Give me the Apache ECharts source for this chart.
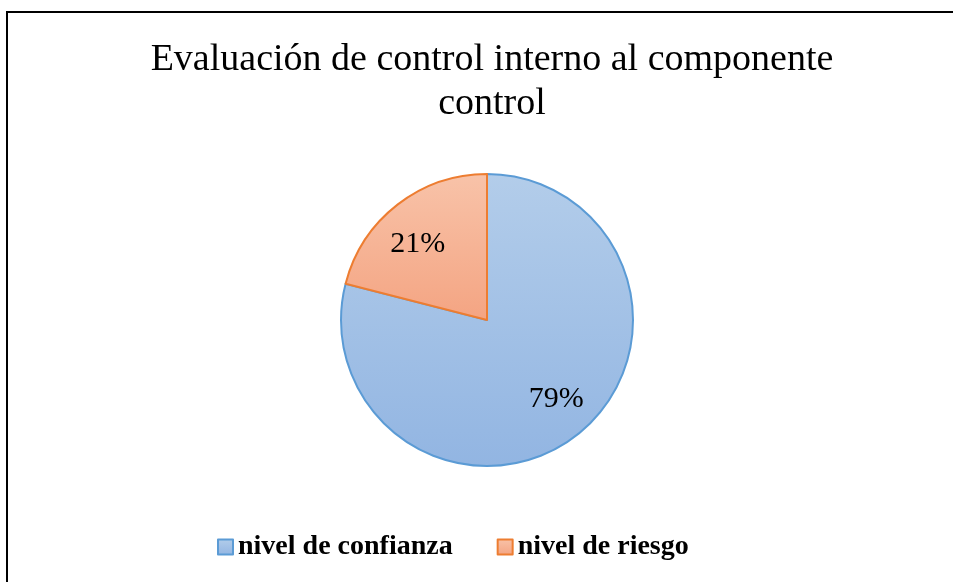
<!DOCTYPE html>
<html><head><meta charset="utf-8">
<script src="https://cdn.jsdelivr.net/npm/echarts@6/dist/echarts.min.js"></script>
<style>html,body{margin:0;padding:0;background:#fff}#c{width:953px;height:582px}</style>
</head><body><div id="c"></div>
<script>
var titleText = 'Evaluación de control interno al componente\ncontrol';
var categories = ['nivel de confianza', 'nivel de riesgo'];
var values = [79, 21];
var labels = ['79%', '21%'];

var fills = [
  new echarts.graphic.LinearGradient(0, 0, 0, 1, [{offset:0,color:'#b3cdea'},{offset:1,color:'#92b5e2'}]),
  new echarts.graphic.LinearGradient(0, 0, 0, 1, [{offset:0,color:'#f8c3a9'},{offset:1,color:'#f4a482'}])
];
var borders = ['#5b9bd5', '#ed7d31'];

var chart = echarts.init(document.getElementById('c'), null, {renderer:'canvas'});
var data = categories.map(function(n,i){
  return {name:n, value:values[i], itemStyle:{color:fills[i], borderColor:borders[i], borderWidth:2}};
});
var labelData = categories.map(function(n,i){
  return {name:n, value:values[i], label:{formatter:labels[i]}};
});
chart.setOption({
  animation:false,
  graphic:[{type:'rect', shape:{x:7,y:12,width:1000,height:700}, style:{fill:'none', stroke:'#000', lineWidth:2}, silent:true}],
  title:{
    text:titleText, left:487, textAlign:'center', top:33,
    textStyle:{fontFamily:'Liberation Serif', fontWeight:'normal', fontSize:38, color:'#000', lineHeight:44}
  },
  legend:{
    data:categories, top:532, left:217, padding:0, icon:'rect',
    itemWidth:15, itemHeight:15, itemGap:44,
    textStyle:{fontFamily:'Liberation Serif', fontWeight:'bold', fontSize:28, color:'#000', lineHeight:30}
  },
  series:[
    {type:'pie', center:[487,320], radius:[0,146], startAngle:90, clockwise:true,
     label:{show:false}, labelLine:{show:false}, emphasis:{disabled:true}, data:data},
    {type:'pie', center:[487,322], radius:[56,146], startAngle:94, clockwise:true, silent:true,
     itemStyle:{color:'rgba(0,0,0,0)', borderWidth:0},
     label:{show:true, position:'inside', fontFamily:'Liberation Serif', fontSize:30, color:'#000'},
     labelLine:{show:false}, emphasis:{disabled:true}, data:labelData, legendHoverLink:false}
  ]
});
</script></body></html>
